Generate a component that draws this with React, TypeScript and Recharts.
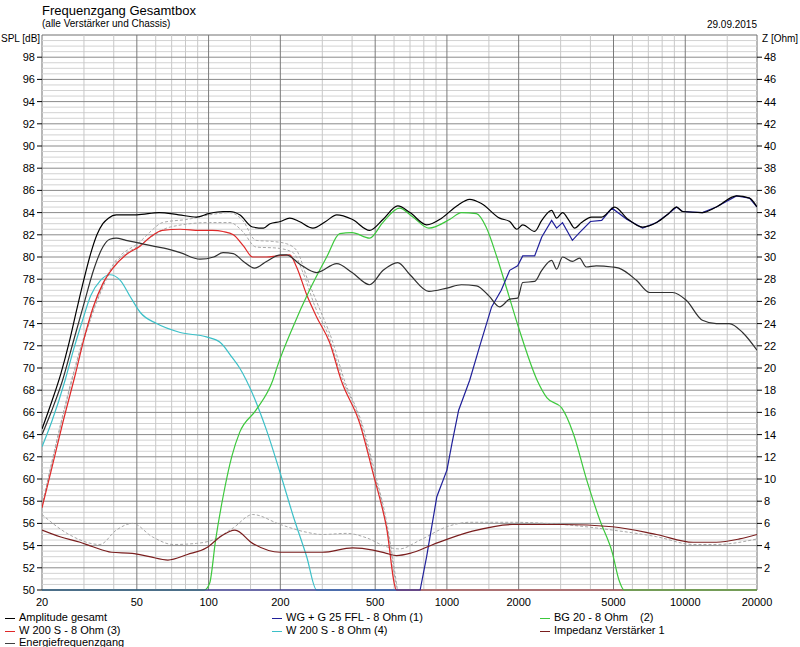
import { LineChart, Line, XAxis, YAxis, ReferenceLine, ReferenceArea } from "recharts";

// x axis (Hz), log scale
const xTicks = [20, 50, 100, 200, 500, 1000, 2000, 5000, 10000, 20000];
const xMinorGrid = [30, 40, 60, 70, 80, 90, 150, 300, 400, 600, 700, 800, 900, 1500, 3000, 4000, 6000, 7000, 8000, 9000, 15000];
const splTicks = [50, 52, 54, 56, 58, 60, 62, 64, 66, 68, 70, 72, 74, 76, 78, 80, 82, 84, 86, 88, 90, 92, 94, 96, 98];
const zTicks = [2, 4, 6, 8, 10, 12, 14, 16, 18, 20, 22, 24, 26, 28, 30, 32, 34, 36, 38, 40, 42, 44, 46, 48];

// Amplitude gesamt
const ampFreq = [20, 22, 24, 26, 28, 30, 32, 34, 36, 38, 41, 50, 62, 75, 89, 100, 115, 123, 135, 153, 170, 181, 200, 219, 240, 274, 310, 345, 400, 474, 540, 622, 700, 822, 950, 1100, 1246, 1400, 1664, 1834, 1964, 2080, 2334, 2500, 2750, 2885, 3055, 3250, 3435, 3670, 4045, 4460, 5060, 5680, 6625, 7580, 8500, 9190, 9740, 11800, 13500, 16400, 18600, 20000];
const ampSpl = [64.5, 67.0, 69.5, 72.3, 75.3, 78.0, 80.3, 82.0, 83.0, 83.5, 83.8, 83.8, 84.0, 83.8, 83.6, 83.9, 84.1, 84.1, 83.8, 82.7, 82.6, 83.0, 83.2, 83.5, 83.2, 82.6, 83.2, 83.8, 83.4, 82.4, 83.4, 84.6, 84.0, 82.9, 83.5, 84.6, 85.2, 84.8, 83.5, 83.2, 82.5, 82.9, 82.3, 83.3, 84.2, 83.5, 84.0, 83.3, 82.6, 83.1, 83.6, 83.6, 84.5, 83.5, 82.7, 83.1, 83.9, 84.5, 84.1, 84.0, 84.5, 85.5, 85.3, 84.5];

// Energiefrequenzgang
const energyFreq = [20, 22, 24.4, 27, 30, 33, 36, 38.5, 41, 45, 50, 58, 65, 76, 92, 105, 115, 127, 140, 156, 175, 200, 212, 240, 284, 345, 400, 474, 540, 622, 700, 840, 1000, 1150, 1330, 1500, 1664, 1834, 1980, 2080, 2334, 2500, 2750, 2885, 3055, 3360, 3600, 3840, 4230, 4930, 5270, 6240, 7090, 8850, 10100, 11800, 13500, 15300, 17400, 20000];
const energySpl = [64.0, 66.2, 68.9, 72.3, 75.8, 78.9, 80.9, 81.6, 81.7, 81.5, 81.3, 81.0, 80.8, 80.4, 79.8, 80.0, 80.4, 80.3, 79.6, 79.0, 79.6, 80.2, 80.2, 79.4, 78.6, 79.4, 78.6, 77.5, 78.8, 79.5, 78.4, 76.9, 77.2, 77.5, 77.4, 76.5, 75.5, 76.2, 76.3, 77.7, 77.8, 78.8, 79.7, 78.9, 80.0, 79.6, 79.9, 79.1, 79.2, 79.1, 79.0, 77.9, 76.8, 76.8, 76.1, 74.3, 74.0, 74.0, 73.2, 71.6];

// W 200 S - 8 Ohm (3)
const w3Freq = [20, 22, 24.4, 27.5, 30, 32.7, 36, 39.7, 45, 51.7, 57, 64, 76, 92, 104, 115, 127, 140, 153, 175, 194, 219, 234, 258, 284, 322, 360, 431, 490, 557, 615, 20000];
const w3Spl = [57.4, 61.0, 65.0, 69.3, 72.6, 75.4, 77.6, 79.0, 80.2, 81.0, 81.8, 82.4, 82.5, 82.4, 82.4, 82.3, 82.0, 81.0, 80.0, 80.0, 80.1, 80.2, 79.1, 76.6, 74.6, 72.3, 68.9, 65.0, 60.5, 55.7, 50, 50];

// W 200 S - 8 Ohm (4)
const w4Freq = [20, 22, 25, 27, 29.6, 32, 35.2, 38.5, 42.6, 47, 51.7, 60.5, 76, 98, 112, 125, 135, 144, 175, 200, 227, 258, 284, 20000];
const w4Spl = [62.9, 65.2, 68.9, 71.5, 74.3, 76.5, 77.9, 78.4, 77.9, 76.4, 75.0, 74.0, 73.2, 72.8, 72.3, 71.0, 70.0, 68.9, 64.4, 60.5, 56.6, 53.0, 50, 50];

// BG 20 - 8 Ohm (2)
const bgFreq = [20, 96, 101, 107, 115, 125, 135, 158, 186, 194, 226, 265, 313, 355, 400, 474, 538, 632, 720, 840, 1030, 1150, 1330, 1460, 1620, 1790, 2015, 2390, 2630, 3030, 3390, 3860, 4380, 4950, 5270, 5540, 20000];
const bgSpl = [50, 50, 50.6, 54.5, 58.4, 62.0, 64.2, 66.2, 68.9, 70.1, 73.7, 77.0, 80.0, 82.1, 82.2, 81.7, 83.1, 84.4, 83.6, 82.6, 83.4, 84.0, 83.9, 82.7, 80.0, 77.0, 73.4, 68.9, 67.3, 66.4, 64.1, 59.9, 56.3, 53.3, 50.9, 50, 50];

// WG + G 25 FFL - 8 Ohm (1)
const wgFreq = [20, 772, 822, 907, 1000, 1050, 1120, 1246, 1370, 1540, 1690, 1834, 1980, 2080, 2334, 2500, 2750, 2885, 3055, 3360, 3600, 4000, 4460, 4930, 5680, 6625, 7580, 8500, 9190, 9740, 11800, 13500, 16400, 18600, 20000];
const wgSpl = [50, 50, 53.0, 58.4, 60.8, 63.2, 66.2, 68.9, 71.9, 75.5, 77.0, 78.8, 79.2, 80.1, 80.1, 81.8, 83.3, 82.6, 83.1, 81.5, 82.2, 83.2, 83.3, 84.4, 83.4, 82.6, 83.1, 83.9, 84.5, 84.1, 84.0, 84.5, 85.5, 85.3, 84.5];

// dashed grey SPL curves (no legend entry)
const dashAFreq = [20, 30, 40, 51.7, 56.5, 64, 82, 101, 123, 139, 158, 186, 212, 234, 260, 290, 330, 370, 440, 500, 560, 620];
const dashASpl = [57.6, 72.8, 79.4, 81.4, 82.2, 83.1, 83.4, 83.8, 84.0, 83.3, 81.5, 81.4, 81.2, 80.6, 78.0, 75.5, 72.5, 69.0, 65.0, 60.5, 56.0, 50];
const dashBFreq = [20, 30, 40, 51.7, 56.5, 69, 101, 123, 139, 158, 194, 226, 250, 280, 320, 360, 431, 495, 557, 615];
const dashBSpl = [57.5, 72.6, 79.2, 81.1, 81.7, 82.7, 83.1, 83.1, 82.3, 80.9, 80.8, 80.4, 78.5, 75.5, 72.8, 69.3, 65.3, 60.5, 55.9, 50];

// Impedanz Verstärker 1 (Ohm)
const impFreq = [20, 23.8, 28.9, 32.7, 39.2, 47.8, 56.5, 67.5, 81.5, 98, 112, 129, 153, 200, 258, 300, 402, 490, 557, 615, 700, 875, 1280, 1880, 3055, 4950, 7580, 10800, 13500, 16900, 20000];
const impOhm = [5.4, 4.8, 4.3, 3.9, 3.4, 3.3, 3.0, 2.7, 3.2, 3.8, 4.8, 5.4, 4.2, 3.4, 3.4, 3.4, 3.8, 3.6, 3.3, 3.1, 3.3, 4.1, 5.3, 5.9, 5.9, 5.7, 5.0, 4.3, 4.3, 4.6, 5.0];
const impDashFreq = [20, 25.5, 35, 41, 48, 58, 71, 89, 104, 127, 153, 200, 258, 300, 380, 460, 557, 632, 772, 1000, 1246, 1880, 3055, 4950, 7580, 10800, 13500, 20000];
const impDashOhm = [6.8, 5.1, 4.1, 5.4, 6.0, 4.8, 4.1, 4.2, 4.5, 5.6, 6.8, 5.9, 5.2, 5.0, 5.1, 4.7, 3.9, 3.7, 4.5, 5.7, 6.1, 6.1, 5.9, 5.4, 4.8, 4.1, 4.1, 4.6];

const legendItems = [
  { name: "Amplitude gesamt", color: "#000000", col: 0, row: 0 },
  { name: "W 200 S - 8 Ohm (3)", color: "#e02828", col: 0, row: 1 },
  { name: "Energiefrequenzgang", color: "#404040", col: 0, row: 2 },
  { name: "WG + G 25 FFL - 8 Ohm (1)", color: "#20209a", col: 1, row: 0 },
  { name: "W 200 S - 8 Ohm (4)", color: "#3cc0c8", col: 1, row: 1 },
  { name: "BG 20 - 8 Ohm", color: "#3cc83c", col: 2, row: 0, suffix: "(2)" },
  { name: "Impedanz Verstärker 1", color: "#7a1e1e", col: 2, row: 1 },
];

const zip = (f: number[], v: number[]) => f.map((x, i) => ({ f: x, v: v[i] }));

const minorY: number[] = [];
for (let v = 50.5; v < 100; v += 0.5) if (v % 2 !== 0) minorY.push(v);

const font = "'Liberation Sans', Arial, sans-serif";
const tickStyle = { fontSize: 11, fill: "#000", fontFamily: font };
const colX = [5, 272, 540];
const rowY = [617, 630, 642];

export default function App() {
  return (
    <div style={{ position: "absolute", left: 0, top: 0, width: 800, height: 647, background: "#fff", fontFamily: font, color: "#000" }}>
      <LineChart width={800} height={647} margin={{ top: 35, right: 3, bottom: 37, left: 6 }}>
        <XAxis
          dataKey="f"
          type="number"
          scale="log"
          domain={[20, 20000]}
          ticks={xTicks}
          allowDataOverflow
          interval={0}
          height={20}
          tickLine={false}
          axisLine={false}
          tick={tickStyle}
        />
        <YAxis yAxisId="spl" domain={[50, 100]} ticks={splTicks} width={36} tickSize={5} axisLine={false} tick={tickStyle} tickLine={{ stroke: "#000" }} interval={0} />
        <YAxis yAxisId="z" orientation="right" domain={[0, 50]} ticks={zTicks} width={40} tickSize={5} axisLine={false} tick={tickStyle} tickLine={{ stroke: "#000" }} interval={0} />

        {minorY.map((v) => (
          <ReferenceLine key={"my" + v} yAxisId="spl" y={v} stroke="#d2d2d2" strokeWidth={1} />
        ))}
        {xMinorGrid.map((v) => (
          <ReferenceLine key={"mx" + v} yAxisId="spl" x={v} stroke="#c8c8c8" strokeWidth={1} />
        ))}
        {splTicks.slice(1).map((v) => (
          <ReferenceLine key={"My" + v} yAxisId="spl" y={v} stroke="#8a8a8a" strokeWidth={1} />
        ))}
        {xTicks.slice(1, -1).map((v) => (
          <ReferenceLine key={"Mx" + v} yAxisId="spl" x={v} stroke="#7a7a7a" strokeWidth={1} />
        ))}
        <ReferenceArea yAxisId="spl" x1={20} x2={20000} y1={50} y2={100} fill="none" stroke="#707070" strokeWidth={1} />

        <Line yAxisId="spl" data={zip(dashAFreq, dashASpl)} dataKey="v" type="monotone" stroke="#a8a8a8" strokeDasharray="3 2" dot={false} activeDot={false} isAnimationActive={false} />
        <Line yAxisId="spl" data={zip(dashBFreq, dashBSpl)} dataKey="v" type="monotone" stroke="#a8a8a8" strokeDasharray="3 2" dot={false} activeDot={false} isAnimationActive={false} />
        <Line yAxisId="z" data={zip(impDashFreq, impDashOhm)} dataKey="v" type="monotone" stroke="#a8a8a8" strokeDasharray="3 2" dot={false} activeDot={false} isAnimationActive={false} />
        <Line yAxisId="spl" data={zip(w4Freq, w4Spl)} dataKey="v" type="monotone" stroke="#3cc0c8" strokeWidth={1.2} dot={false} activeDot={false} isAnimationActive={false} />
        <Line yAxisId="spl" data={zip(w3Freq, w3Spl)} dataKey="v" type="monotone" stroke="#e02828" strokeWidth={1.2} dot={false} activeDot={false} isAnimationActive={false} />
        <Line yAxisId="spl" data={zip(bgFreq, bgSpl)} dataKey="v" type="monotone" stroke="#3cc83c" strokeWidth={1.2} dot={false} activeDot={false} isAnimationActive={false} />
        <Line yAxisId="spl" data={zip(wgFreq, wgSpl)} dataKey="v" type="linear" stroke="#20209a" strokeWidth={1.2} dot={false} activeDot={false} isAnimationActive={false} />
        <Line yAxisId="z" data={zip(impFreq, impOhm)} dataKey="v" type="monotone" stroke="#7a1e1e" strokeWidth={1.2} dot={false} activeDot={false} isAnimationActive={false} />
        <Line yAxisId="spl" data={zip(energyFreq, energySpl)} dataKey="v" type="monotone" stroke="#303030" strokeWidth={1.2} dot={false} activeDot={false} isAnimationActive={false} />
        <Line yAxisId="spl" data={zip(ampFreq, ampSpl)} dataKey="v" type="monotone" stroke="#000" strokeWidth={1.2} dot={false} activeDot={false} isAnimationActive={false} />
      </LineChart>

      <div style={{ position: "absolute", left: 42, top: 3, fontSize: 13, whiteSpace: "nowrap" }}>Frequenzgang Gesamtbox</div>
      <div style={{ position: "absolute", left: 42, top: 18, fontSize: 10, whiteSpace: "nowrap" }}>(alle Verstärker und Chassis)</div>
      <div style={{ position: "absolute", right: 43, top: 19, fontSize: 10, whiteSpace: "nowrap" }}>29.09.2015</div>
      <div style={{ position: "absolute", left: 1, top: 33, fontSize: 10, whiteSpace: "nowrap" }}>SPL [dB]</div>
      <div style={{ position: "absolute", left: 762, top: 33, fontSize: 10, whiteSpace: "nowrap" }}>Z [Ohm]</div>

      {legendItems.map((it) => (
        <div key={it.name} style={{ position: "absolute", left: colX[it.col], top: rowY[it.row] - 7, height: 14, fontSize: 11, lineHeight: "14px", whiteSpace: "nowrap" }}>
          <span style={{ display: "inline-block", width: 10, height: 1, background: it.color, verticalAlign: "middle", marginRight: 4 }} />
          {it.name}
          {it.suffix && <span style={{ position: "absolute", left: 100, top: 0 }}>{it.suffix}</span>}
        </div>
      ))}
    </div>
  );
}
